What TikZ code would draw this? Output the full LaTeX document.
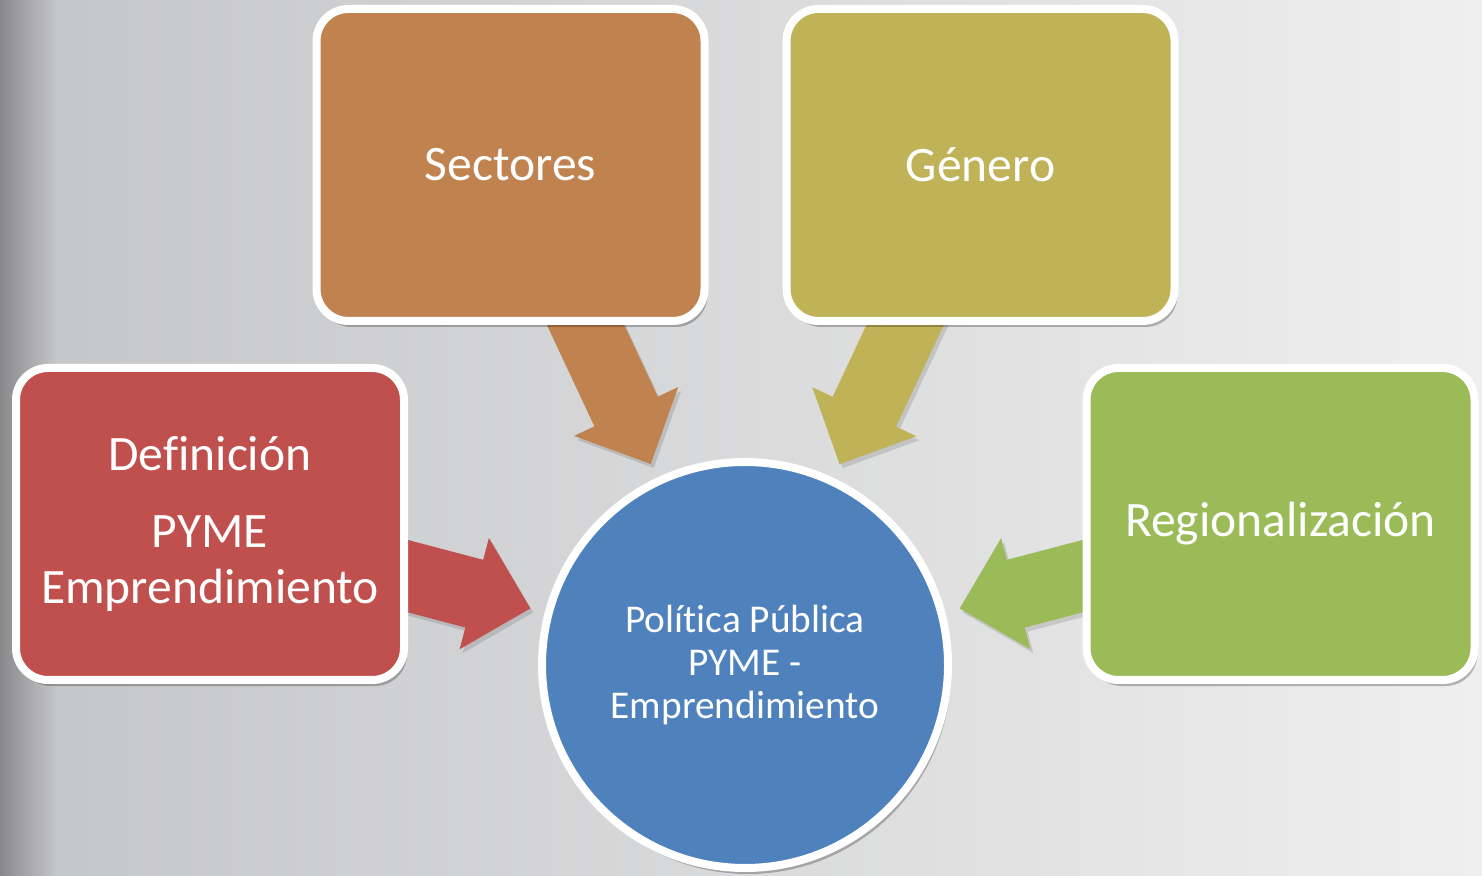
\documentclass[tikz,border=0pt]{standalone}
\usepackage{fontspec}
\setmainfont{Carlito}[Ligatures=NoCommon]
\usetikzlibrary{calc,positioning,shadows}

\definecolor{secfill}{HTML}{C08350}
\definecolor{genfill}{HTML}{C0B257}
\definecolor{deffill}{HTML}{C0504D}
\definecolor{regfill}{HTML}{9BBB59}
\definecolor{polfill}{HTML}{4F81BD}
\definecolor{bgleft}{HTML}{C4C5C7}
\definecolor{bgright}{HTML}{EFEFEF}
\definecolor{bgedge}{HTML}{88888A}

\pgfdeclarelayer{fondo}
\pgfdeclarelayer{flechas}
\pgfsetlayers{fondo,flechas,main}

\tikzset{
  sombra/.style={drop shadow={shadow xshift=0.3mm,shadow yshift=-0.6mm,opacity=0.25,fill=black}},
  sombrina/.style={drop shadow={shadow xshift=0.3mm,shadow yshift=-0.4mm,opacity=0.12,fill=black}},
  caja/.style={draw=white,line width=0.8mm,rounded corners=3.2mm,fill=#1,text=white,
    minimum width=3.88cm,minimum height=3.12cm,align=center,
    font=\fontsize{14.1}{16.2}\selectfont,sombra},
  centro/.style={circle,draw=white,line width=0.8mm,fill=polfill,text=white,
    minimum size=4.06cm,align=center,font=\fontsize{11.2}{12.2}\selectfont,sombra}
}

% block arrow from box #1 towards circle #2, colour #3
\newcommand{\flecha}[3]{%
  \coordinate (#1-tip) at ($(#2.center)!2.22cm!(#1.center)$);
  \coordinate (#1-base) at ($(#1-tip)!5.8mm!(#1.center)$);
  \fill[fill=#3,sombrina] ($(#1.center)!3.5mm!90:(#1-tip)$)
    -- ($(#1-base)!3.5mm!90:(#1-tip)$) -- ($(#1-base)!5.75mm!90:(#1-tip)$)
    -- (#1-tip)
    -- ($(#1-base)!5.75mm!-90:(#1-tip)$) -- ($(#1-base)!3.5mm!-90:(#1-tip)$)
    -- ($(#1.center)!3.5mm!-90:(#1-tip)$) -- cycle;
}

\begin{document}
\begin{tikzpicture}
  \useasboundingbox (0,0) rectangle (14.82,8.75);
  \begin{pgfonlayer}{fondo}
    \fill[left color=bgleft,right color=bgright] (0,0) rectangle (14.82,8.75);
    \fill[left color=bgedge,right color=bgleft] (0,0) rectangle (0.55,8.75);
  \end{pgfonlayer}

  \node (pol) [centro] at (7.45,2.10) {Política Pública\\PYME -\\Emprendimiento};
  \node (sec) [caja=secfill] at (5.105,7.10) {Sectores};
  \node (gen) [caja=genfill,right=7.4mm of sec] {Género};
  \node (def) [caja=deffill] at (2.10,3.51) {Definición\\[2mm]PYME\\Emprendimiento};
  \node (reg) [caja=regfill] at (12.805,3.51) {Regionalización};

  \begin{pgfonlayer}{flechas}
    \flecha{sec}{pol}{secfill}
    \flecha{gen}{pol}{genfill}
    \flecha{def}{pol}{deffill}
    \flecha{reg}{pol}{regfill}
  \end{pgfonlayer}
\end{tikzpicture}
\end{document}
